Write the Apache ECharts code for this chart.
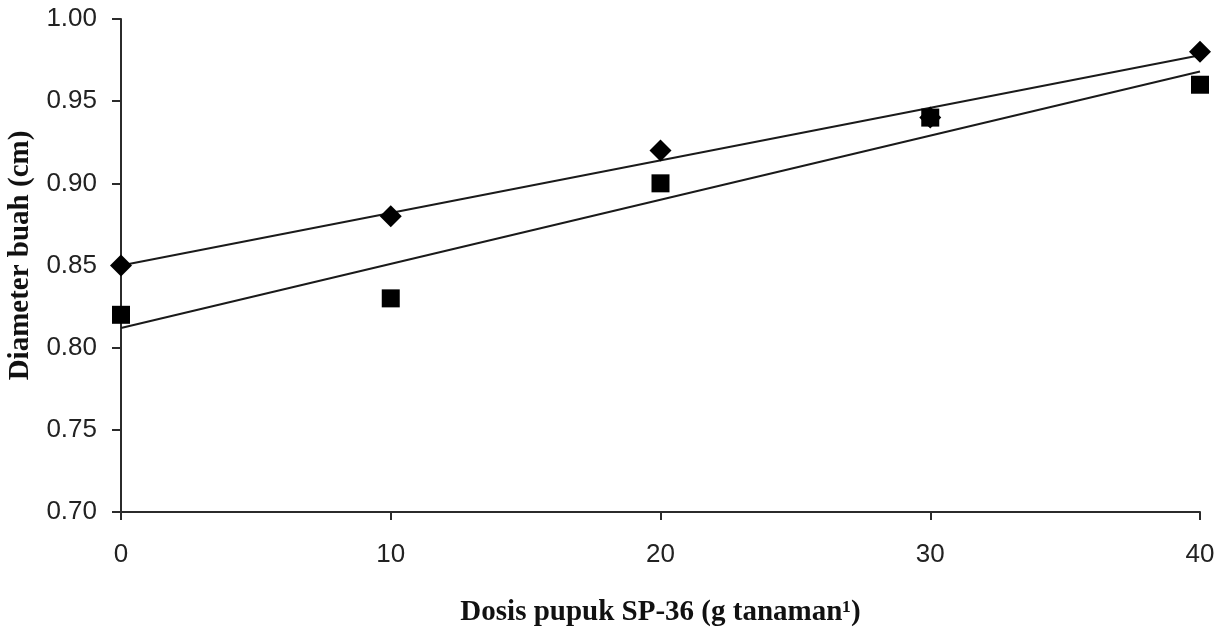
<!DOCTYPE html>
<html>
<head>
<meta charset="utf-8">
<title>Diameter buah</title>
<script src="https://cdn.jsdelivr.net/npm/echarts@6/dist/echarts.min.js"></script>
<style>
  html, body { margin: 0; padding: 0; background: #fff; }
  #chart { width: 1224px; height: 637px; }
</style>
</head>
<body>
<div id="chart"></div>
<script>
// dosis pupuk (g tanaman-1)
const doses = [0, 10, 20, 30, 40]
// diameter buah (cm), dua perlakuan
const seriesDiamond = [0.85, 0.88, 0.92, 0.94, 0.98]
const seriesSquare = [0.82, 0.83, 0.90, 0.94, 0.96]
// garis tren, ujung-ujungnya
const trendX = [0, 40]
const trendDiamond = [0.85, 0.978]
const trendSquare = [0.812, 0.968]

const pairs = (xs, ys) => xs.map((x, i) => [x, ys[i]])

const axisColor = '#2b2b2b'
const tickFont = {
  fontFamily: 'Liberation Sans',
  fontSize: 26,
  color: '#222',
}
const titleFont = {
  fontFamily: 'Liberation Serif',
  fontWeight: 'bold',
  fontSize: 29,
  color: '#111',
}

const chart = echarts.init(document.getElementById('chart'))

chart.setOption({
  animation: false,
  grid: {
    left: 121,
    right: 24,
    top: 19,
    bottom: 125,
    outerBoundsMode: 'none',
  },
  xAxis: {
    type: 'value',
    min: 0,
    max: 40,
    interval: 10,
    name: 'Dosis pupuk SP-36 (g tanaman\u00B9)',
    nameLocation: 'middle',
    nameGap: 86,
    nameTextStyle: titleFont,
    axisLine: { lineStyle: { color: axisColor, width: 2 } },
    axisTick: { show: true, inside: false, length: 8, lineStyle: { color: axisColor, width: 2 } },
    axisLabel: { ...tickFont, margin: 30 },
    splitLine: { show: false },
  },
  yAxis: {
    type: 'value',
    min: 0.70,
    max: 1.00,
    interval: 0.05,
    name: 'Diameter buah (cm)',
    nameLocation: 'middle',
    nameGap: 86,
    // geser judul sedikit ke atas seperti aslinya
    nameTextStyle: { ...titleFont, padding: [0, 0, 0, 20] },
    axisLine: { show: true, lineStyle: { color: axisColor, width: 2 } },
    axisTick: { show: true, inside: false, length: 9, lineStyle: { color: axisColor, width: 2 } },
    axisLabel: {
      ...tickFont,
      margin: 24,
      formatter: v => v.toFixed(2),
    },
    splitLine: { show: false },
  },
  series: [
    {
      type: 'line',
      data: pairs(trendX, trendDiamond),
      symbol: 'none',
      lineStyle: { color: '#1a1a1a', width: 2 },
      z: 1,
    },
    {
      type: 'line',
      data: pairs(trendX, trendSquare),
      symbol: 'none',
      lineStyle: { color: '#1a1a1a', width: 2 },
      z: 1,
    },
    {
      type: 'scatter',
      data: pairs(doses, seriesDiamond),
      symbol: 'diamond',
      symbolSize: 22,
      itemStyle: { color: '#000', opacity: 1 },
      z: 3,
    },
    {
      type: 'scatter',
      data: pairs(doses, seriesSquare),
      symbol: 'rect',
      symbolSize: 18,
      itemStyle: { color: '#000', opacity: 1 },
      z: 3,
    },
  ],
})
</script>
</body>
</html>
